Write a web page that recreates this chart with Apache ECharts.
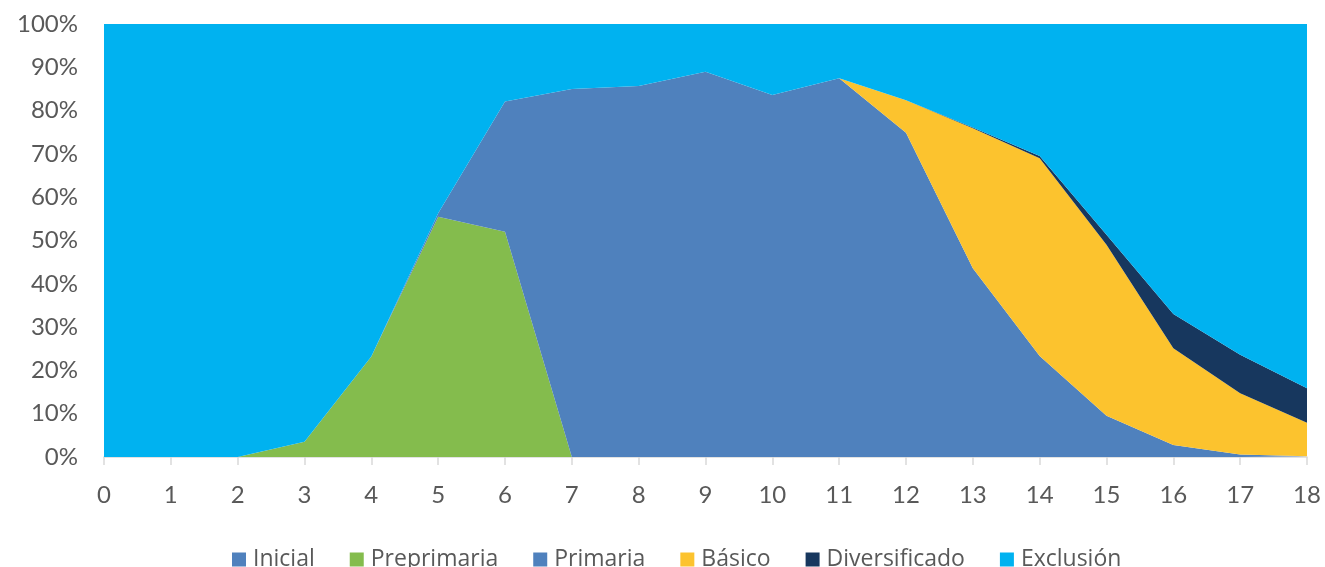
<!DOCTYPE html>
<html>
<head>
<meta charset="utf-8">
<script src="https://cdn.jsdelivr.net/npm/echarts@6/dist/echarts.min.js"></script>
<style>
  html, body { margin: 0; padding: 0; background: #fff; }
  #chart { width: 1325px; height: 567px; }
</style>
</head>
<body>
<div id="chart"></div>
<script>
// edades 0..18
const edades = ['0','1','2','3','4','5','6','7','8','9','10','11','12','13','14','15','16','17','18']

// porcentajes por nivel
const inicial       = [0, 0, 0, 0, 0, 0, 0, 0, 0, 0, 0, 0, 0, 0, 0, 0, 0, 0, 0]
const preprimaria   = [0, 0, 0, 3.5, 23.2, 55.5, 52.0, 0, 0, 0, 0, 0, 0, 0, 0, 0, 0, 0, 0]
const primaria      = [0, 0, 0, 0, 0, 0.8, 30.1, 85.0, 85.7, 89.0, 83.6, 87.5, 74.9, 43.6, 23.3, 9.5, 2.8, 0.6, 0.2]
const basico        = [0, 0, 0, 0, 0, 0, 0, 0, 0, 0, 0, 0, 7.5, 32.3, 45.7, 39.5, 22.3, 14.1, 7.7]
const diversificado = [0, 0, 0, 0, 0, 0, 0, 0, 0, 0, 0, 0, 0, 0.2, 0.5, 2.3, 7.9, 8.9, 8.0]
const exclusion     = [100, 100, 100, 96.5, 76.8, 43.7, 17.9, 15.0, 14.3, 11.0, 16.4, 12.5, 17.6, 23.9, 30.5, 48.7, 67.0, 76.4, 84.1]

const colores = ['#4F81BD', '#84BC4D', '#4F81BD', '#FCC32E', '#17375E', '#00B2F0']

const mkSerie = (name, data, color) => ({
    name: name,
    type: 'line',
    stack: 'total',
    data: data,
    showSymbol: false,
    symbol: 'none',
    lineStyle: { width: 0 },
    areaStyle: { color: color, opacity: 1 },
    itemStyle: { color: color }
})

const chart = echarts.init(document.getElementById('chart'))
const option = {
    animation: false,
    grid: { left: 104, right: 18, top: 24, bottom: 110 },
    legend: {
        top: 543,
        left: 227,
        itemWidth: 14,
        itemHeight: 14,
        itemGap: 35,
        icon: 'rect',
        textStyle: { fontFamily: 'Open Sans', fontSize: 23, color: '#595959', padding: [0, 0, 0, 2] },
        data: ['Inicial', 'Preprimaria', 'Primaria', 'Básico', 'Diversificado', 'Exclusión']
    },
    xAxis: {
        type: 'category',
        boundaryGap: false,
        data: edades,
        axisLine: { lineStyle: { color: '#D9D9D9', width: 1.5 } },
        axisTick: { show: true, length: 8, lineStyle: { color: '#D9D9D9', width: 1.5 } },
        axisLabel: { fontFamily: 'Lato', fontSize: 24, color: '#595959', margin: 26 }
    },
    yAxis: {
        type: 'value',
        min: 0,
        max: 100,
        interval: 10,
        axisLine: { show: false },
        axisTick: { show: false },
        splitLine: { show: false },
        axisLabel: { fontFamily: 'Lato', fontSize: 24, color: '#595959', margin: 26, formatter: '{value}%' }
    },
    series: [
        mkSerie('Inicial', inicial, colores[0]),
        mkSerie('Preprimaria', preprimaria, colores[1]),
        mkSerie('Primaria', primaria, colores[2]),
        mkSerie('Básico', basico, colores[3]),
        mkSerie('Diversificado', diversificado, colores[4]),
        mkSerie('Exclusión', exclusion, colores[5])
    ]
}
chart.setOption(option)
</script>
</body>
</html>
